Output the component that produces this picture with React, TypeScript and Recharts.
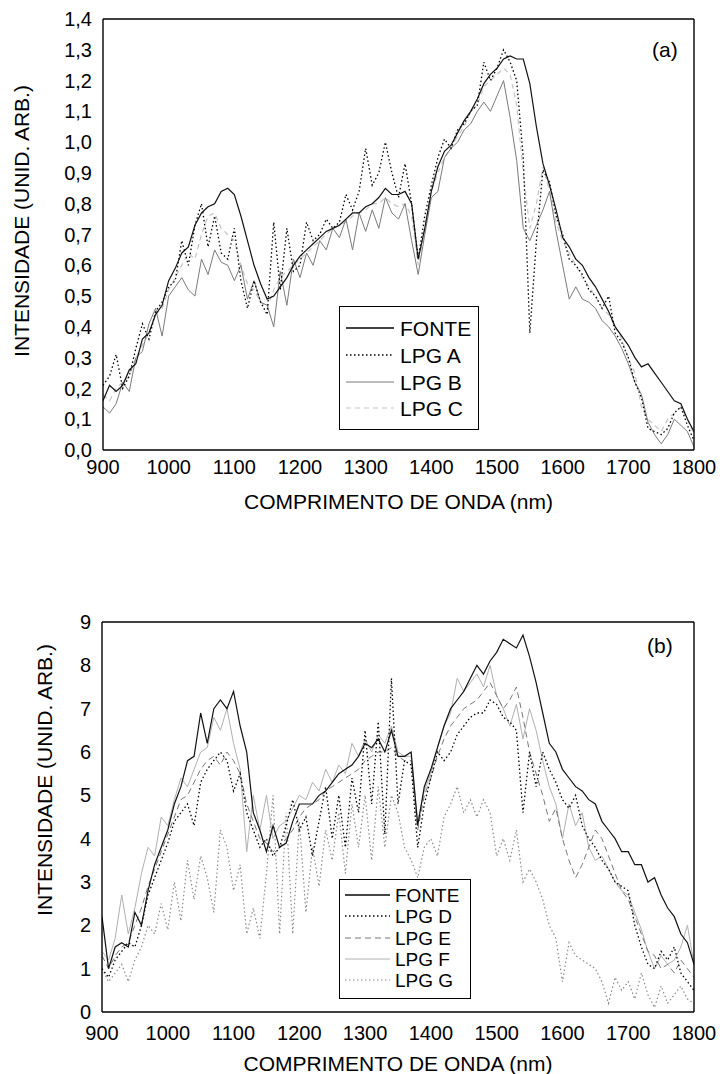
import React from "react";
import { LineChart, Line, XAxis, YAxis } from "recharts";

const FONT = '"Liberation Sans", Arial, Helvetica, sans-serif';

// wavelength grid (nm) shared by both panels
const WAVELENGTHS = [
  900, 910, 920, 930, 940, 950, 960, 970, 980, 990,
  1000, 1010, 1020, 1030, 1040, 1050, 1060, 1070, 1080, 1090,
  1100, 1110, 1120, 1130, 1140, 1150, 1160, 1170, 1180, 1190,
  1200, 1210, 1220, 1230, 1240, 1250, 1260, 1270, 1280, 1290,
  1300, 1310, 1320, 1330, 1340, 1350, 1360, 1370, 1380, 1390,
  1400, 1410, 1420, 1430, 1440, 1450, 1460, 1470, 1480, 1490,
  1500, 1510, 1520, 1530, 1540, 1550, 1560, 1570, 1580, 1590,
  1600, 1610, 1620, 1630, 1640, 1650, 1660, 1670, 1680, 1690,
  1700, 1710, 1720, 1730, 1740, 1750, 1760, 1770, 1780, 1790,
  1800,
];

// panel (a)
const FONTE_A = [
  0.16, 0.21, 0.19, 0.21, 0.26, 0.28, 0.36, 0.38, 0.44, 0.47,
  0.55, 0.59, 0.64, 0.66, 0.73, 0.77, 0.79, 0.8, 0.84, 0.85,
  0.83, 0.76, 0.68, 0.6, 0.54, 0.49, 0.5, 0.53, 0.56, 0.6,
  0.63, 0.65, 0.67, 0.69, 0.71, 0.72, 0.73, 0.75, 0.77, 0.77,
  0.79, 0.8, 0.82, 0.85, 0.83, 0.83, 0.84, 0.8, 0.62, 0.72,
  0.84, 0.92, 0.97, 0.99, 1.03, 1.07, 1.1, 1.14, 1.19, 1.22,
  1.24, 1.27, 1.28, 1.27, 1.27, 1.19, 1.05, 0.93, 0.86, 0.78,
  0.69, 0.66, 0.62, 0.6, 0.56, 0.53, 0.49, 0.45, 0.4, 0.37,
  0.34, 0.3, 0.27, 0.28, 0.25, 0.22, 0.19, 0.16, 0.15, 0.1,
  0.06,
];
const LPG_A = [
  0.21, 0.24, 0.31, 0.2, 0.24, 0.33, 0.41, 0.36, 0.45, 0.48,
  0.53, 0.55, 0.68, 0.6, 0.73, 0.8, 0.66, 0.76, 0.64, 0.62,
  0.72, 0.55, 0.46, 0.55, 0.48, 0.44, 0.74, 0.52, 0.72, 0.58,
  0.6, 0.74, 0.68, 0.7, 0.75, 0.72, 0.74, 0.83, 0.78, 0.84,
  0.98, 0.86, 0.9, 1.0, 0.9, 0.82, 0.93, 0.8, 0.62, 0.76,
  0.86, 0.95, 1.01, 0.98, 1.04, 1.06, 1.1, 1.12, 1.26, 1.2,
  1.24, 1.3, 1.26, 1.2, 0.95, 0.38, 0.68, 0.91, 0.87, 0.76,
  0.7, 0.62, 0.6, 0.57, 0.52, 0.5, 0.46, 0.5, 0.38, 0.35,
  0.3, 0.22, 0.17, 0.07, 0.06, 0.05, 0.07, 0.12, 0.14, 0.08,
  0.03,
];
const LPG_B = [
  0.14, 0.12, 0.15, 0.22, 0.19, 0.3, 0.32, 0.41, 0.46, 0.37,
  0.5, 0.53, 0.56, 0.52, 0.5, 0.62, 0.57, 0.65, 0.61, 0.6,
  0.55, 0.6, 0.49, 0.55, 0.48, 0.47, 0.4, 0.58, 0.47, 0.62,
  0.56, 0.64, 0.6, 0.68, 0.65, 0.72, 0.69, 0.75, 0.65, 0.77,
  0.71, 0.78, 0.72, 0.82, 0.77, 0.75, 0.8, 0.68, 0.57, 0.7,
  0.82, 0.84, 0.95, 0.98, 1.0, 1.04, 1.06, 1.1, 1.13, 1.1,
  1.15, 1.2, 1.08, 0.94, 0.72, 0.68, 0.73, 0.78, 0.84, 0.71,
  0.6, 0.49, 0.53, 0.49, 0.48, 0.46, 0.42, 0.4, 0.37, 0.33,
  0.28, 0.22, 0.18, 0.09, 0.05, 0.02, 0.05, 0.1, 0.08, 0.06,
  0.01,
];
const LPG_C = [
  0.18, 0.16, 0.2, 0.22, 0.24, 0.3, 0.34, 0.38, 0.44, 0.46,
  0.52, 0.56, 0.6, 0.64, 0.62, 0.7, 0.76, 0.77, 0.72, 0.7,
  0.68, 0.6, 0.54, 0.52, 0.48, 0.46, 0.52, 0.56, 0.58, 0.6,
  0.62, 0.64, 0.66, 0.68, 0.7, 0.72, 0.73, 0.74, 0.76, 0.77,
  0.78, 0.8, 0.8, 0.82, 0.8, 0.79, 0.8, 0.76, 0.6, 0.72,
  0.84, 0.9, 0.95, 0.98, 1.02, 1.05, 1.1, 1.12, 1.18, 1.2,
  1.22, 1.24, 1.22, 1.12, 0.9, 0.72, 0.8, 0.92, 0.84, 0.74,
  0.68, 0.64, 0.6, 0.56, 0.53, 0.5, 0.46, 0.44, 0.4, 0.36,
  0.3, 0.25, 0.14, 0.1, 0.08, 0.06, 0.1, 0.12, 0.14, 0.1,
  0.05,
];

// panel (b)
const FONTE_B = [
  2.2, 1.0, 1.5, 1.6, 1.5, 2.3, 2.0, 2.8, 3.4, 3.8,
  4.2, 4.8, 5.2, 5.8, 5.9, 6.9, 6.2, 7.0, 7.2, 7.0,
  7.4, 6.6, 6.0, 4.6, 4.2, 3.7, 4.3, 3.8, 3.9, 4.4,
  4.8, 4.8, 4.8, 5.0, 5.1, 5.3, 5.5, 5.6, 5.7, 5.9,
  6.2, 6.1, 6.3, 6.0, 6.5, 5.9, 5.9, 6.0, 4.3, 5.2,
  5.6, 6.1, 6.6, 7.0, 7.2, 7.4, 7.7, 8.0, 7.8, 8.1,
  8.3, 8.6, 8.5, 8.4, 8.7, 8.2, 7.6, 6.9, 6.2, 6.0,
  5.6, 5.4, 5.2, 5.1, 4.9, 4.8, 4.4, 4.2, 4.0, 3.7,
  3.7, 3.4, 3.4, 3.0, 3.1, 2.7, 2.4, 2.2, 1.8, 1.6,
  1.1,
];
const LPG_D = [
  1.0, 0.8, 1.2, 1.4, 1.6, 1.5, 2.0, 2.7, 3.1, 3.5,
  3.9, 4.4, 4.6, 4.8, 4.3, 5.3, 5.6, 5.8, 6.0, 5.8,
  5.1, 5.5, 4.6, 4.2, 3.8, 4.0, 3.6, 3.8, 4.3, 4.9,
  4.2, 4.5, 3.6, 4.4, 5.2, 4.0, 5.0, 3.8, 5.4, 4.6,
  6.5, 4.8, 6.7, 4.1, 7.7, 4.8, 5.8, 5.7, 3.8, 4.8,
  5.4, 6.0, 5.8, 6.0, 6.4, 6.6, 6.8, 6.9, 6.9, 7.2,
  7.1, 6.8, 6.7, 6.5, 4.6, 6.0, 5.2, 6.0, 5.6, 5.3,
  4.9, 4.7, 5.0, 4.3, 4.0, 3.8, 3.5, 3.3, 3.0, 2.9,
  2.8, 2.0, 1.5, 1.1, 1.0, 1.4, 1.2, 1.5, 0.9, 0.7,
  0.5,
];
const LPG_E = [
  1.3, 1.0, 1.3, 1.5, 1.6, 2.0, 2.4, 2.9, 3.3, 3.7,
  4.1, 4.5, 4.9, 5.0, 5.3, 5.6, 5.8, 5.9, 5.7, 6.0,
  5.8, 5.5, 4.8, 4.4, 4.0, 3.9, 3.7, 3.8, 4.0, 4.2,
  4.5, 4.7, 4.8, 4.9, 5.1, 5.2, 5.3, 5.4, 5.5, 5.6,
  5.8, 5.9, 6.0, 6.0, 6.1, 5.9, 5.8, 5.8, 4.2, 5.0,
  5.4, 5.9, 6.3, 6.6, 6.8, 7.0, 7.1, 7.2, 7.4, 7.6,
  7.3, 7.0, 7.2, 7.5, 6.8, 6.0, 5.5, 5.0, 4.4, 4.7,
  4.0, 3.5, 3.1, 3.4, 3.8, 4.2, 4.0, 3.6, 3.2, 2.8,
  2.6, 2.2, 1.8, 1.4, 1.3, 1.0, 1.1, 0.9, 1.2, 1.0,
  0.8,
];
const LPG_F = [
  1.4, 1.2, 1.7, 2.7, 1.8, 2.4, 3.2, 3.8, 3.6, 4.5,
  4.3, 4.9, 5.4, 5.2, 5.6, 6.0, 6.1, 6.8, 6.5, 7.0,
  6.2, 5.6, 3.7, 5.0, 4.2, 5.0, 4.0, 4.3, 4.4, 4.7,
  5.0, 4.9, 5.3, 5.1, 5.6, 5.3, 5.7, 5.5, 6.2, 5.9,
  6.3, 6.0, 6.4, 6.2, 6.6, 6.0, 5.9, 5.9, 4.4, 5.1,
  5.5, 6.1, 6.6, 6.9, 7.7, 7.4, 7.6, 7.8, 7.5, 8.0,
  7.3, 7.0, 6.6, 7.1, 6.3, 7.0, 6.5, 5.8, 5.2, 4.8,
  4.0, 4.8, 4.3, 4.6, 3.8, 3.5, 3.6, 3.3, 3.0, 2.8,
  2.7, 2.3, 1.9, 1.4, 1.0, 1.3, 1.1, 1.2, 1.5, 2.0,
  1.1,
];
const LPG_G = [
  1.0, 0.7, 0.9, 1.1, 0.7, 1.2, 1.5, 2.0, 1.8, 2.5,
  1.9, 3.0, 2.1, 3.5, 2.6, 3.6, 3.1, 2.3, 4.2, 3.8,
  2.8, 3.4, 1.8, 2.4, 1.7, 3.2, 5.0, 1.8, 4.6, 1.8,
  4.4, 2.3, 3.8, 2.9, 4.2, 3.5, 4.6, 3.2, 4.8, 3.8,
  5.0, 3.5, 5.2, 3.8, 5.0, 4.6, 3.8, 3.5, 3.1, 3.8,
  4.0, 3.6, 4.5, 4.8, 5.2, 4.6, 4.9, 4.5, 4.9, 4.6,
  3.6, 4.0, 3.5, 4.2, 3.0, 3.3, 3.0, 2.6, 2.0, 1.7,
  0.7, 1.6, 1.3, 1.2, 1.1, 1.0, 0.7, 0.2, 0.8, 0.5,
  0.7, 0.3, 0.9, 0.4, 0.1, 0.6, 0.2, 0.4, 0.6, 0.3,
  0.2,
];

const X_TICKS = [900, 1000, 1100, 1200, 1300, 1400, 1500, 1600, 1700, 1800];
const Y_TICKS_A = [0, 0.1, 0.2, 0.3, 0.4, 0.5, 0.6, 0.7, 0.8, 0.9, 1.0, 1.1, 1.2, 1.3, 1.4];
const Y_TICKS_B = [0, 1, 2, 3, 4, 5, 6, 7, 8, 9];

// minor tick marks (frame decoration only)
const steps = (from: number, to: number, step: number) => {
  const out: number[] = [];
  for (let v = from; v <= to + 1e-9; v += step) out.push(Math.round(v * 1000) / 1000);
  return out;
};
const X_MINOR = steps(900, 1800, 20);

type Series = { key: string; name: string; values: number[]; stroke: string; width: number; dash?: string };

const SERIES_A: Series[] = [
  { key: "lpgC", name: "LPG C", values: LPG_C, stroke: "#c4c4c4", width: 1.2, dash: "5 4" },
  { key: "lpgB", name: "LPG B", values: LPG_B, stroke: "#7a7a7a", width: 1 },
  { key: "lpgA", name: "LPG A", values: LPG_A, stroke: "#000", width: 1.3, dash: "1.5 2.5" },
  { key: "fonte", name: "FONTE", values: FONTE_A, stroke: "#111", width: 1.2 },
];
const SERIES_B: Series[] = [
  { key: "lpgG", name: "LPG G", values: LPG_G, stroke: "#8a8a8a", width: 1.2, dash: "1.5 2.5" },
  { key: "lpgF", name: "LPG F", values: LPG_F, stroke: "#b0b0b0", width: 1 },
  { key: "lpgE", name: "LPG E", values: LPG_E, stroke: "#777", width: 1, dash: "6 4" },
  { key: "lpgD", name: "LPG D", values: LPG_D, stroke: "#000", width: 1.3, dash: "1.5 2.5" },
  { key: "fonte", name: "FONTE", values: FONTE_B, stroke: "#111", width: 1.2 },
];
const LEGEND_ORDER_A = ["fonte", "lpgA", "lpgB", "lpgC"];
const LEGEND_ORDER_B = ["fonte", "lpgD", "lpgE", "lpgF", "lpgG"];

const TICK_STYLE = { fill: "#000", fontSize: 20, fontFamily: FONT };
const FRAME = { stroke: "#000", strokeWidth: 1.4 };

function XTitle(props: any) {
  const vb = props.viewBox || { x: 0, y: 0, width: 0 };
  return (
    <text x={vb.x + vb.width / 2} y={vb.y + props.shiftY} textAnchor="middle" fontFamily={FONT} fontSize={21} fill="#000">
      COMPRIMENTO DE ONDA (nm)
    </text>
  );
}

function YTitle(props: any) {
  const { cx, cy } = props;
  return (
    <text x={cx} y={cy} transform={`rotate(-90 ${cx} ${cy})`} textAnchor="middle" dominantBaseline="central" fontFamily={FONT} fontSize={21} fill="#000">
      INTENSIDADE (UNID. ARB.)
    </text>
  );
}

interface LegendProps {
  series: Series[];
  order: string[];
  box: { left: number; top: number; width: number; height: number };
  rowY: number[];
  sample: [number, number];
  textX: number;
  fontSize: number;
}

function LegendBox({ series, order, box, rowY, sample, textX, fontSize }: LegendProps) {
  return (
    <div style={{ position: "absolute", left: box.left, top: box.top, width: box.width, height: box.height, border: "1px solid #000", background: "#fff", boxSizing: "border-box" }}>
      <svg width={box.width} height={box.height} style={{ position: "absolute", left: -1, top: -1 }}>
        {order.map((k, i) => {
          const s = series.find((d) => d.key === k)!;
          const isFonte = k === "fonte";
          return (
            <g key={k}>
              <line x1={sample[0]} x2={sample[1]} y1={rowY[i]} y2={rowY[i]} stroke={isFonte ? "#444" : s.stroke} strokeWidth={isFonte ? 2 : s.width} strokeDasharray={s.dash} />
              <text x={textX} y={rowY[i]} dominantBaseline="central" fontFamily={FONT} fontSize={fontSize} fill="#000">{s.name}</text>
            </g>
          );
        })}
      </svg>
    </div>
  );
}

interface PanelProps {
  top: number;
  height: number;
  margin: { top: number; right: number; bottom: number; left: number };
  yWidth: number;
  xHeight: number;
  xTickMargin: number;
  yDomain: [number, number];
  yTicks: number[];
  yMinor: number[];
  yFormat: (v: number) => string;
  series: Series[];
  yTitle: { cx: number; cy: number };
  tag: { text: string; left: number; top: number };
  legend: Omit<LegendProps, "series">;
}

function Panel({ top, height, margin, yWidth, xHeight, xTickMargin, yDomain, yTicks, yMinor, yFormat, series, yTitle, tag, legend }: PanelProps) {
  const rows = WAVELENGTHS.map((nm, i) => {
    const r: Record<string, number> = { nm };
    series.forEach((s) => { r[s.key] = s.values[i]; });
    return r;
  });

  const xCommon = { dataKey: "nm", type: "number" as const, domain: [900, 1800], allowDataOverflow: true, interval: 0 as const };
  const yCommon = { type: "number" as const, domain: yDomain, allowDataOverflow: true, interval: 0 as const };

  return (
    <div style={{ position: "absolute", left: 0, top, width: 722, height }}>
      <LineChart width={722} height={height} data={rows} margin={margin}>
        <XAxis xAxisId="x" {...xCommon} ticks={X_TICKS} height={xHeight} tickSize={0} tickMargin={xTickMargin} axisLine={false} tickLine={false} tick={TICK_STYLE} label={<XTitle shiftY={59} />} />
        {/* frame: mirrored axes carry inward tick marks */}
        <XAxis xAxisId="xb" {...xCommon} ticks={X_TICKS} mirror height={1} tick={false} tickSize={8} axisLine={FRAME} tickLine={FRAME} />
        <XAxis xAxisId="xbm" {...xCommon} ticks={X_MINOR} mirror height={1} tick={false} tickSize={4} axisLine={false} tickLine={FRAME} />
        <XAxis xAxisId="xt" {...xCommon} orientation="top" ticks={X_TICKS} mirror height={1} tick={false} tickSize={8} axisLine={FRAME} tickLine={FRAME} />
        <XAxis xAxisId="xtm" {...xCommon} orientation="top" ticks={X_MINOR} mirror height={1} tick={false} tickSize={4} axisLine={false} tickLine={FRAME} />

        <YAxis yAxisId="y" {...yCommon} ticks={yTicks} width={yWidth} tickSize={0} tickMargin={11} axisLine={false} tickLine={false} tick={TICK_STYLE} tickFormatter={yFormat} label={<YTitle cx={yTitle.cx} cy={yTitle.cy} />} />
        <YAxis yAxisId="yl" {...yCommon} ticks={yTicks} mirror width={1} tick={false} tickSize={8} axisLine={FRAME} tickLine={FRAME} />
        <YAxis yAxisId="ylm" {...yCommon} ticks={yMinor} mirror width={1} tick={false} tickSize={4} axisLine={false} tickLine={FRAME} />
        <YAxis yAxisId="yr" {...yCommon} orientation="right" ticks={yTicks} mirror width={1} tick={false} tickSize={8} axisLine={FRAME} tickLine={FRAME} />
        <YAxis yAxisId="yrm" {...yCommon} orientation="right" ticks={yMinor} mirror width={1} tick={false} tickSize={4} axisLine={false} tickLine={FRAME} />

        {series.map((s) => (
          <Line
            key={s.key}
            xAxisId="x"
            yAxisId="y"
            type="linear"
            dataKey={s.key}
            name={s.name}
            stroke={s.stroke}
            strokeWidth={s.width}
            strokeDasharray={s.dash}
            dot={false}
            activeDot={false}
            isAnimationActive={false}
          />
        ))}
      </LineChart>
      <LegendBox series={series} {...legend} />
      <div style={{ position: "absolute", left: tag.left, top: tag.top, fontFamily: FONT, fontSize: 21, lineHeight: "24px", color: "#000" }}>{tag.text}</div>
    </div>
  );
}

export default function App() {
  return (
    <div style={{ position: "absolute", left: 0, top: 0, width: 722, height: 1074, background: "#fff" }}>
      <Panel
        top={0}
        height={540}
        margin={{ top: 19, right: 28, bottom: 0, left: 0 }}
        yWidth={103}
        xHeight={90}
        xTickMargin={10}
        yDomain={[0, 1.4]}
        yTicks={Y_TICKS_A}
        yMinor={steps(0, 1.4, 0.02)}
        yFormat={(v) => v.toFixed(1).replace(".", ",")}
        series={SERIES_A}
        yTitle={{ cx: 21, cy: 221 }}
        tag={{ text: "(a)", left: 652, top: 38 }}
        legend={{
          order: LEGEND_ORDER_A,
          box: { left: 339, top: 306, width: 140, height: 124 },
          rowY: [22, 49, 76, 102],
          sample: [7, 55],
          textX: 61,
          fontSize: 21,
        }}
      />
      <Panel
        top={540}
        height={534}
        margin={{ top: 82, right: 28, bottom: 0, left: 0 }}
        yWidth={102}
        xHeight={62}
        xTickMargin={14}
        yDomain={[0, 9]}
        yTicks={Y_TICKS_B}
        yMinor={steps(0, 9, 0.2)}
        yFormat={(v) => String(v)}
        series={SERIES_B}
        yTitle={{ cx: 44, cy: 240 }}
        tag={{ text: "(b)", left: 647, top: 94 }}
        legend={{
          order: LEGEND_ORDER_B,
          box: { left: 339, top: 339, width: 132, height: 120 },
          rowY: [16, 37, 59, 80, 101],
          sample: [6, 51],
          textX: 56,
          fontSize: 19,
        }}
      />
    </div>
  );
}
